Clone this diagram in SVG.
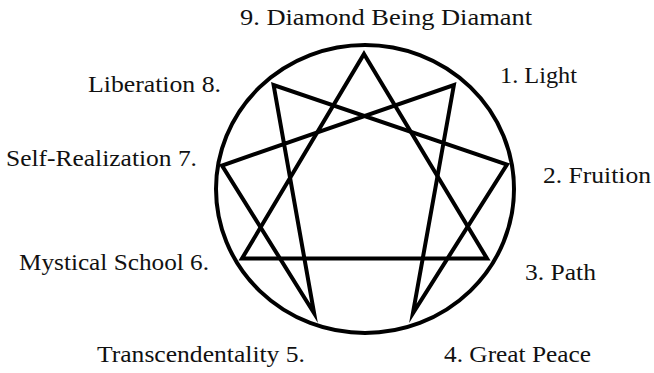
<svg xmlns="http://www.w3.org/2000/svg" width="654" height="373" viewBox="0 0 654 373">
<style>
text{font-family:"Liberation Serif","Times New Roman",serif;font-size:24px;fill:#111}
.l{stroke:#000;stroke-width:4;fill:none;stroke-linejoin:miter;stroke-miterlimit:12}
</style>
<rect width="654" height="373" fill="#fff"/>
<g id="ring"><ellipse class="l" cx="365" cy="189" rx="149" ry="144"/></g>
<g id="connectors">
<polygon class="l" points="364,54 487,258.5 242,258.5"/>
<polygon class="l" points="453.9,85 412.9,313.2 507,164.5 273.6,85 314.1,313.2 222,165.5"/>
</g>
<g id="n9"><text x="240" y="25" textLength="292" lengthAdjust="spacingAndGlyphs">9. Diamond Being Diamant</text></g>
<g id="n1"><text x="500" y="83" textLength="77" lengthAdjust="spacingAndGlyphs">1. Light</text></g>
<g id="n2"><text x="543" y="183" textLength="108" lengthAdjust="spacingAndGlyphs">2. Fruition</text></g>
<g id="n3"><text x="525" y="280" textLength="71" lengthAdjust="spacingAndGlyphs">3. Path</text></g>
<g id="n4"><text x="444" y="362" textLength="147" lengthAdjust="spacingAndGlyphs">4. Great Peace</text></g>
<g id="n5"><text x="97" y="362" textLength="208" lengthAdjust="spacingAndGlyphs">Transcendentality 5.</text></g>
<g id="n6"><text x="19" y="270" textLength="190" lengthAdjust="spacingAndGlyphs">Mystical School 6.</text></g>
<g id="n7"><text x="6" y="166" textLength="191" lengthAdjust="spacingAndGlyphs">Self-Realization 7.</text></g>
<g id="n8"><text x="88" y="92" textLength="133" lengthAdjust="spacingAndGlyphs">Liberation 8.</text></g>
</svg>
